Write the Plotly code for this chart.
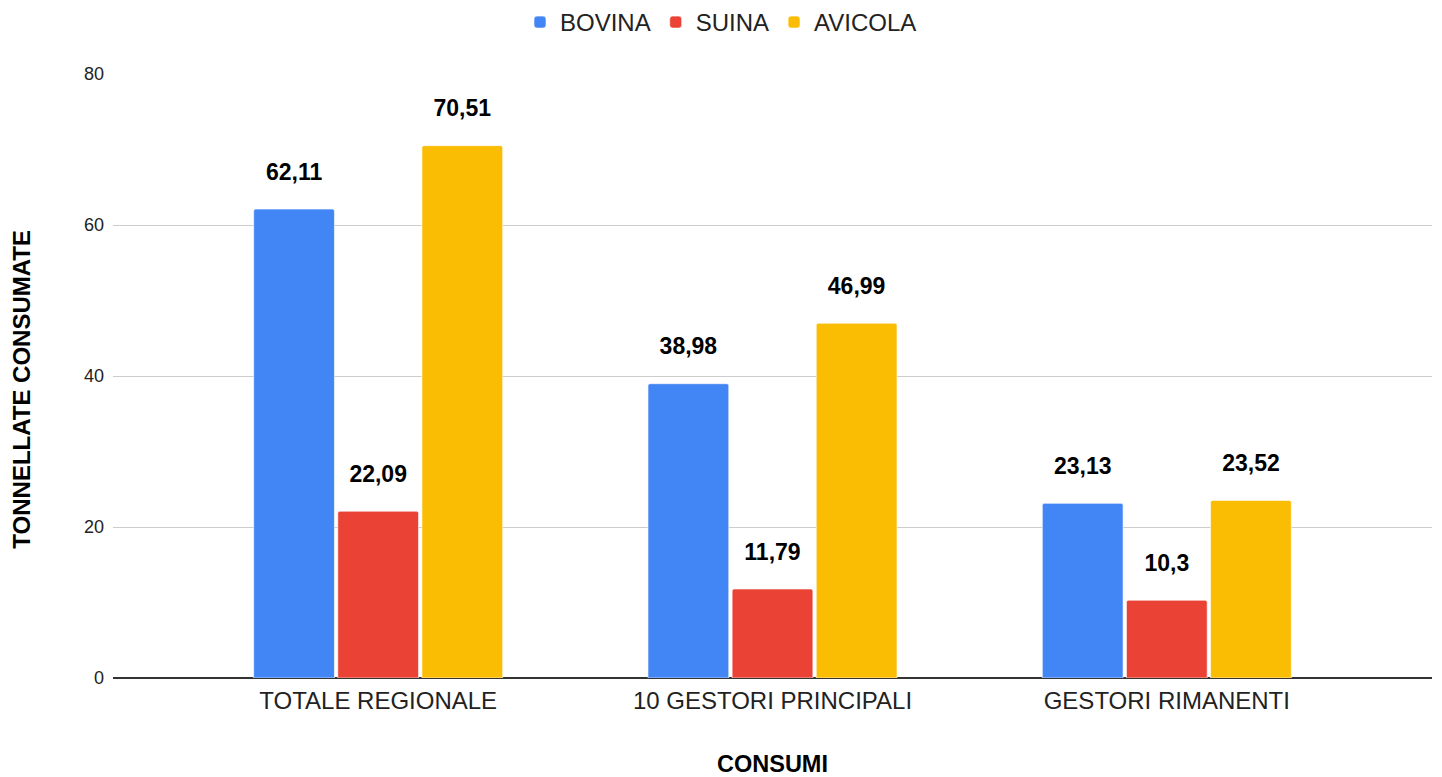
import plotly.graph_objects as go

categories = ["TOTALE REGIONALE", "10 GESTORI PRINCIPALI", "GESTORI RIMANENTI"]
series_names = ["BOVINA", "SUINA", "AVICOLA"]
bovina = [62.11, 38.98, 23.13]
suina = [22.09, 11.79, 10.3]
avicola = [70.51, 46.99, 23.52]
colors = ["#4285F4", "#EA4335", "#FBBC04"]
y_ticks = [0, 20, 40, 60, 80]

FONT = "Liberation Sans, Arial, sans-serif"

def fmt(v):
    return f"{v:g}".replace(".", ",")

fig = go.Figure()
for name, vals, col in zip(series_names, [bovina, suina, avicola], colors):
    fig.add_trace(go.Bar(
        name=name,
        x=categories,
        y=vals,
        marker=dict(color=col, line=dict(color="rgba(255,255,255,0.6)", width=1)),
        hoverinfo="skip",
        offsetgroup=name,
    ))

# value labels, grouped like the bars
for name, vals in zip(series_names, [bovina, suina, avicola]):
    fig.add_trace(go.Scatter(
        x=categories,
        y=vals,
        mode="markers+text",
        text=[fmt(v) for v in vals],
        texttemplate="<b>%{text}</b>",
        textposition="top center",
        textfont=dict(family=FONT, size=23, color="#000000"),
        marker=dict(size=36, opacity=0),
        cliponaxis=False,
        showlegend=False,
        hoverinfo="skip",
        offsetgroup=name,
    ))

fig.update_layout(
    width=1442,
    height=777,
    paper_bgcolor="white",
    plot_bgcolor="white",
    barmode="group",
    scattermode="group",
    bargap=0.36,
    scattergap=0.36,
    bargroupgap=0.04,
    barcornerradius=2,
    margin=dict(l=113, r=10, t=74, b=99),
    font=dict(family=FONT, color="#222222"),
    showlegend=True,
    legend=dict(
        orientation="h",
        xref="container", yref="container",
        x=0.5, xanchor="center",
        y=1.0, yanchor="top",
        font=dict(family=FONT, size=24, color="#222222"),
        traceorder="normal",
    ),
    xaxis=dict(
        type="category",
        range=[-0.6725, 2.6725],
        showgrid=False,
        showline=False,
        ticks="",
        automargin=False,
        ticklabelstandoff=6,
        tickfont=dict(family=FONT, size=24, color="#222222"),
        title=dict(text="<b>CONSUMI</b>", font=dict(family=FONT, size=23.5, color="#000000"), standoff=47),
    ),
    yaxis=dict(
        range=[0, 80],
        tickvals=y_ticks,
        ticktext=[str(t) for t in y_ticks],
        showgrid=True,
        gridcolor="#cccccc",
        gridwidth=1,
        zeroline=True,
        zerolinecolor="#333333",
        zerolinewidth=1.5,
        showline=False,
        ticks="",
        automargin=False,
        ticklabelstandoff=8,
        tickfont=dict(family=FONT, size=18, color="#222222"),
        title=dict(text="<b>TONNELLATE CONSUMATE</b>&nbsp;&nbsp;&nbsp;&nbsp;",
                   font=dict(family=FONT, size=24, color="#000000"), standoff=46),
    ),
)

fig.write_html("out.html", config={"displayModeBar": False},
               post_script="document.body.style.margin='0px';")
